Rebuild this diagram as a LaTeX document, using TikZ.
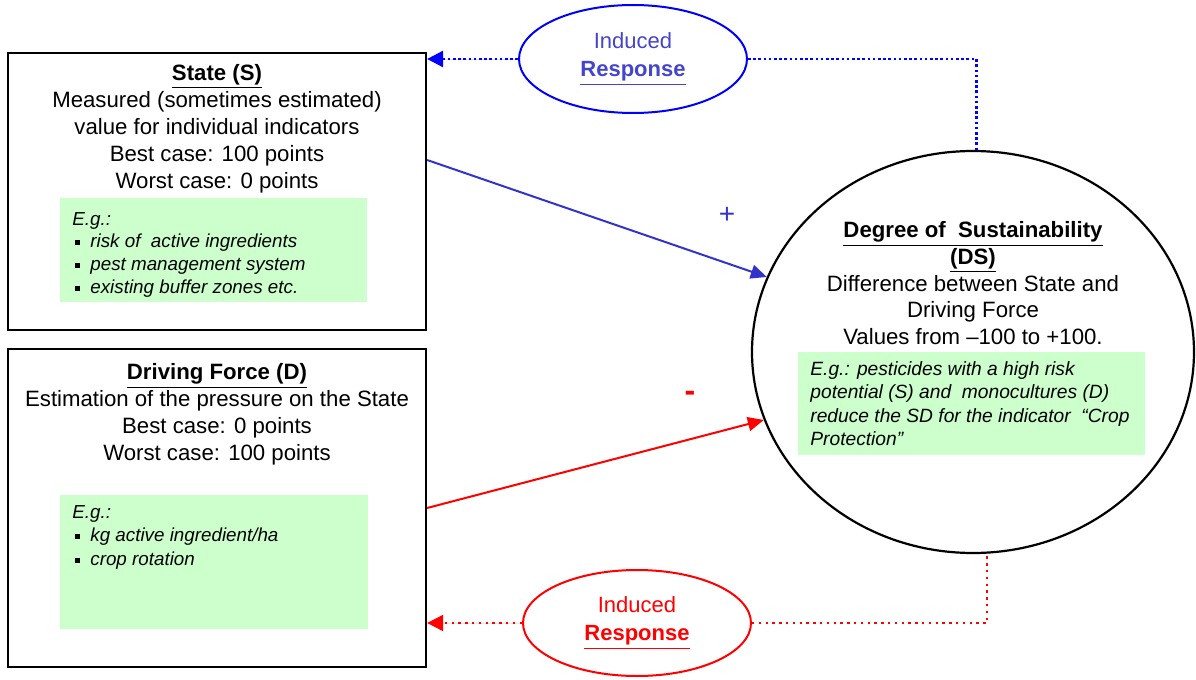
\documentclass[tikz,border=0pt]{standalone}
\usepackage{fontspec}
\setmainfont{Liberation Sans}
\usetikzlibrary{fit,shapes.geometric,arrows.meta}
\definecolor{egreen}{HTML}{CCFFCC}
\definecolor{pblue}{HTML}{3333CC}
\definecolor{tblue}{HTML}{4444CC}
\newcommand{\sqb}{\hspace*{1.5pt}\rule[0.25ex]{0.5ex}{0.5ex}\hspace{5pt}}
\begin{document}
\begin{tikzpicture}[x=0.5pt,y=-0.5pt,
  box/.style={draw=black, line width=1.1pt, inner sep=0pt},
  greenbox/.style={fill=egreen, draw=none, inner sep=0pt},
  maintext/.style={align=center, font=\fontsize{11.1}{13.5}\selectfont, inner sep=0pt, anchor=north},
  egtext/.style={align=left, font=\fontsize{9.4}{11.3}\selectfont\itshape, inner sep=0pt, anchor=north west},
  resp/.style={ellipse, line width=1pt, minimum width=114pt, minimum height=54pt, inner sep=0pt, align=center, font=\fontsize{11}{14}\selectfont},
  solidarrow/.style={line width=1pt, -{Triangle[length=8pt,width=7pt]}},
  dotarrow/.style={-{Triangle[length=8pt,width=8pt]}},
]
\useasboundingbox (0,0) rectangle (1196,680);

% boxes
\node[box, fit={(8,53) (426,330)}] (S) {};
\node[greenbox, fit={(60,198) (367,302)}] (Sg) {};
\node[maintext] (St) at (217,64) {\textbf{\underline{State (S)}}\\Measured (sometimes estimated)\\value for individual indicators\\Best case: 100 points\\Worst case: 0 points};
\node[egtext] (Sgt) at (72,212) {E.g.:\\\sqb risk of\ \ active ingredients\\\sqb pest management system\\\sqb existing buffer zones etc.};

\node[box, fit={(8,349) (426,667)}] (D) {};
\node[greenbox, fit={(60,495) (368,629)}] (Dg) {};
\node[maintext] (Dt) at (217,363) {\textbf{\underline{Driving Force (D)}}\\Estimation of the pressure on the State\\Best case: 0 points\\Worst case: 100 points};
\node[egtext, font=\fontsize{9.4}{11.8}\selectfont\itshape] (Dgt) at (72,505) {E.g.:\\\sqb kg active ingredient/ha\\\sqb crop rotation};

% big circle
\node[ellipse, draw=black, line width=1.1pt, minimum width=221pt, minimum height=201pt, inner sep=0pt] (DS) at (973,352) {};
\node[greenbox, fit={(798,352) (1145,455)}] (DSg) {};
\node[maintext, font=\fontsize{11.1}{13.4}\selectfont] (DSt) at (973,221) {\textbf{\underline{Degree of\ \ Sustainability}}\\\textbf{\underline{(DS)}}\\Difference between State and\\Driving Force\\Values from –100 to +100.};
\node[egtext, font=\fontsize{9.6}{11.7}\selectfont\itshape] (DSgt) at (810,361) {E.g.: pesticides with a high risk\\potential (S) and\ \ monocultures (D)\\reduce the SD for the indicator\ \ “Crop\\Protection”};

% response ellipses
\node[resp, draw=blue, text=tblue] (RT) at (633,59) {Induced\\\textbf{\underline{Response}}};
\node[resp, draw=red, text=red, minimum height=53pt] (RB) at (637,623) {Induced\\\textbf{\underline{Response}}};

% signs
\node[text=pblue, font=\fontsize{14}{14}\selectfont, inner sep=0pt] (plus) at (727,215) {+};
\node[text=red, font=\fontsize{16}{16}\selectfont\bfseries, inner sep=0pt] (minus) at (690,396) {-};

% connectors
\draw[solidarrow, draw=pblue, fill=pblue] ([yshift=15.75pt]S.east) -- (DS.160);
\draw[solidarrow, draw=red, fill=red] (D.east) -- (DS.198);

\draw[blue, line width=1.3pt, dash pattern=on 1.3pt off 1.3pt] (RT.east) -| (DS.89);
\draw[blue, line width=1.3pt, dash pattern=on 1.3pt off 1.3pt, dotarrow, fill=blue] (RT.west) -- (S.east |- RT.west);

\draw[red, line width=0.9pt, dash pattern=on 1.2pt off 2.2pt] (RB.east) -| (DS.-86);
\draw[red, line width=0.9pt, dash pattern=on 1.2pt off 2.2pt, dotarrow, fill=red] (RB.west) -- (D.east |- RB.west);
\end{tikzpicture}
\end{document}
